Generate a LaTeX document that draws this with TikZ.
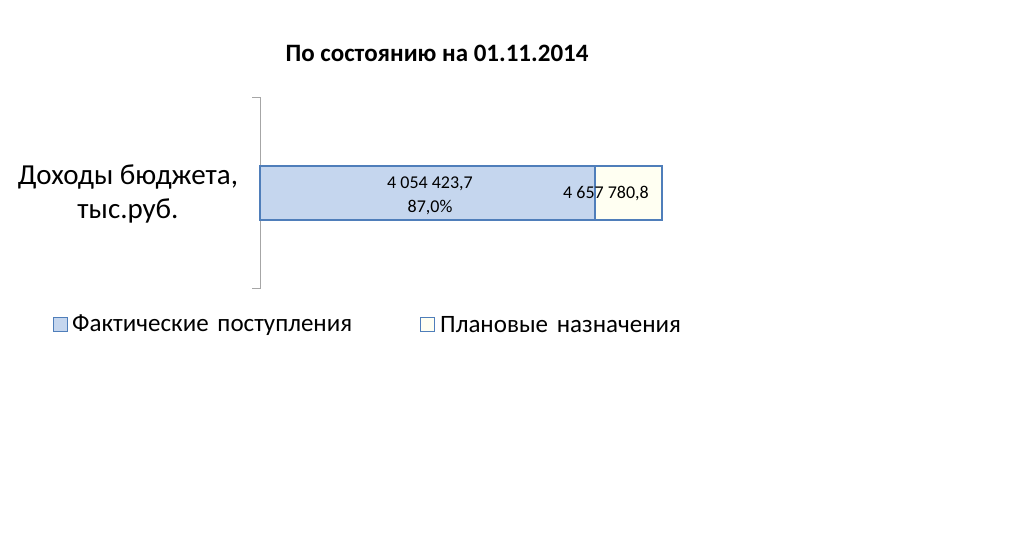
\documentclass[tikz,border=0pt]{standalone}
\usepackage{fontspec}
\setmainfont{Carlito}
\definecolor{bfill}{HTML}{C5D6EE}
\definecolor{bline}{HTML}{4F7EBA}
\definecolor{pfill}{HTML}{FFFFF2}
\begin{document}
\begin{tikzpicture}[x=1pt,y=-1pt,
  bar/.style={draw=bline,line width=1.2pt},
  lbl/.style={font=\fontsize{18}{20}\selectfont,inner sep=0pt},
  leg/.style={font=\fontsize{25}{28}\selectfont,anchor=west,inner sep=0pt}]
\useasboundingbox (0,0) rectangle (1024,537);
\node[font=\bfseries\fontsize{25}{28}\selectfont] (title) at (437,53) {По состоянию на 01.11.2014};
\draw[gray!70] (252,97) -- (260,97) -- (260,288) -- (252,288);
\draw[bar,fill=bfill] (260,166) rectangle (595,220);
\draw[bar,fill=pfill] (595,166) rectangle (662,220);
\node[lbl] (v1) at (430,184) {4 054 423,7};
\node[lbl] (v2) at (430,208) {87,0\%};
\node[lbl] (v3) at (606,194) {4 657 780,8};
\node[font=\fontsize{29}{34}\selectfont,align=center] (cat) at (128,194) {Доходы бюджета,\\тыс.руб.};
\draw[bar,line width=1pt,fill=bfill] (53,317) rectangle (67,331);
\node[leg] (l1) at (72,325) {Фактические\hspace{0.35em}поступления};
\draw[bar,line width=1pt,fill=pfill] (420,317) rectangle (434,331);
\node[leg] (l2) at (440,325) {Плановые\hspace{0.35em}назначения};
\end{tikzpicture}
\end{document}
